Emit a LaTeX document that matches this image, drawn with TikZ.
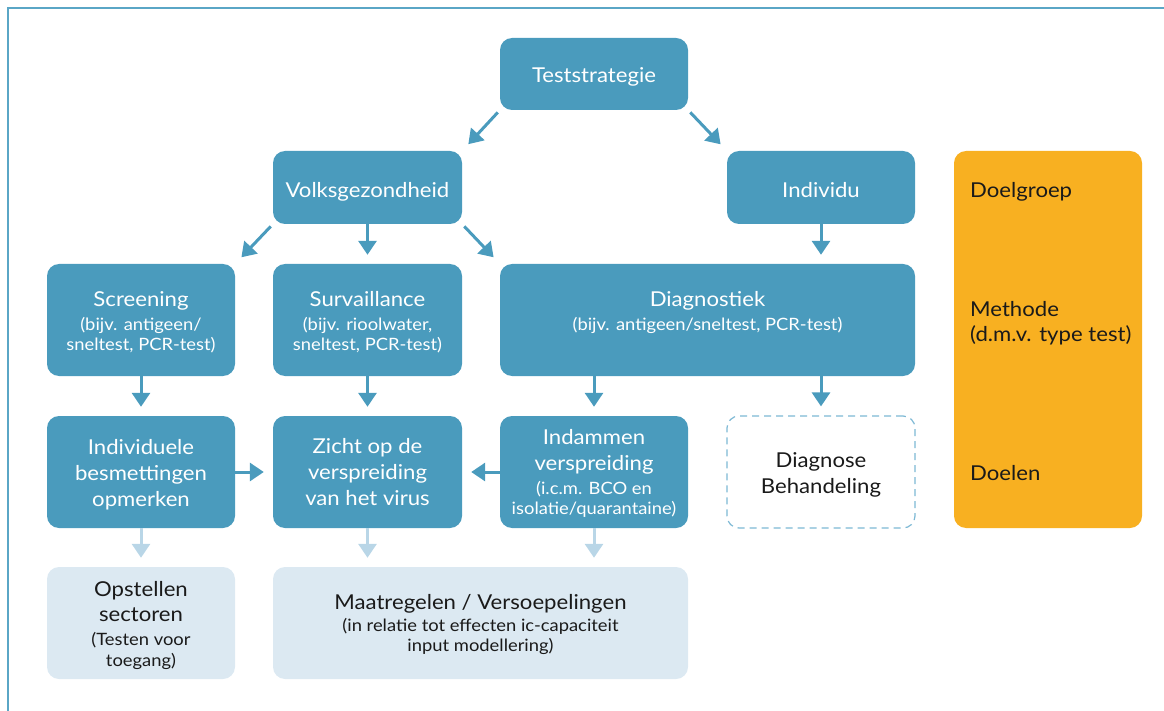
\documentclass[tikz,border=0pt]{standalone}
\usepackage{fontspec}
\setmainfont[FakeStretch=1.08]{Lato}
\usetikzlibrary{arrows.meta,calc}
\definecolor{cblue}{HTML}{4A9BBD}
\definecolor{clight}{HTML}{DCE9F2}
\definecolor{clarrow}{HTML}{B9D6E7}
\definecolor{corange}{HTML}{F8B021}
\definecolor{cdash}{HTML}{7DB8D4}
\definecolor{cframe}{HTML}{5AA6C6}
\definecolor{ctext}{HTML}{1A1A1A}
\newcommand{\mainsz}{\fontsize{20.5}{26}\selectfont}
\newcommand{\subsz}{\fontsize{17}{21}\selectfont}
\newcommand{\st}{\rule{0pt}{18pt}}
\tikzset{
  box/.style={rounded corners=12pt, inner sep=0pt},
  bluebox/.style={box, fill=cblue},
  lightbox/.style={box, fill=clight},
  dashbox/.style={box, draw=cdash, line width=1.2pt, dash pattern=on 7pt off 5pt},
  wtxt/.style={text=white, align=center, font=\mainsz, inner sep=0pt, anchor=north},
  btxt/.style={text=ctext, align=center, font=\mainsz, inner sep=0pt, anchor=north},
  ltxt/.style={text=ctext, align=left, font=\mainsz, inner sep=0pt, anchor=north west},
  arr/.style={draw=cblue, line width=3pt, -{Triangle[width=18pt,length=14pt]}, shorten >=9pt},
  larr/.style={draw=clarrow, line width=3pt, -{Triangle[width=18pt,length=14pt]}, shorten >=9pt}
}
\begin{document}
\begin{tikzpicture}[x=1pt,y=-1pt]
\useasboundingbox (0,0) rectangle (1164,711);
\draw[cframe, line width=1.5pt] (8,711) -- (8,8) -- (1164,8);

% boxes
\node[bluebox, minimum width=188pt, minimum height=72pt] (tst) at (594,74) {};
\node[bluebox, minimum width=189pt, minimum height=73pt] (vg) at (367.5,187.5) {};
\node[bluebox, minimum width=188pt, minimum height=73pt] (ind) at (821,187.5) {};
\node[bluebox, minimum width=188pt, minimum height=112pt] (scr) at (141,320) {};
\node[bluebox, minimum width=189pt, minimum height=112pt] (sur) at (367.5,320) {};
\node[bluebox, minimum width=415pt, minimum height=112pt] (dia) at (707.5,320) {};
\node[bluebox, minimum width=188pt, minimum height=112pt] (indi) at (141,472) {};
\node[bluebox, minimum width=189pt, minimum height=112pt] (zicht) at (367.5,472) {};
\node[bluebox, minimum width=188pt, minimum height=112pt] (indam) at (594,472) {};
\node[dashbox, minimum width=188pt, minimum height=112pt] (diag) at (821,472) {};
\node[lightbox, minimum width=188pt, minimum height=112pt] (opst) at (141,623) {};
\node[lightbox, minimum width=415pt, minimum height=112pt] (maat) at (480.5,623) {};
\node[box, fill=corange, minimum width=188pt, minimum height=377pt] (leg) at (1048,339.5) {};

% texts (anchor north = first baseline - 18pt)
\node[wtxt] (tstt) at (594,64.3) {\st Teststrategie};
\node[wtxt] (vgt) at (367.5,179) {\st Volksgezondheid};
\node[wtxt] (indt) at (821,179) {\st Individu};
\node[wtxt] (scrt) at (141,288) {\st Screening\\[-2pt]\subsz (bijv. antigeen/\\[-5.5pt]\subsz sneltest, PCR-test)};
\node[wtxt] (surt) at (367.5,288) {\st Survaillance\\[-2pt]\subsz (bijv. rioolwater,\\[-5.5pt]\subsz sneltest, PCR-test)};
\node[wtxt] (diat) at (707.5,288) {\st Diagnostiek\\[-2pt]\subsz (bijv. antigeen/sneltest, PCR-test)};
\node[wtxt] (indit) at (141,436) {\st Individuele\\besmettingen\\opmerken};
\node[wtxt] (zichtt) at (367.5,435.5) {\st Zicht op de\\verspreiding\\van het virus};
\node[wtxt] (indamt) at (594,426.5) {\st Indammen\\[-0.5pt]verspreiding\\[-2pt]\subsz (i.c.m. BCO en\\[-5.5pt]\subsz isolatie/quarantaine)};
\node[btxt] (diagt) at (821,449.3) {\st Diagnose\\[-0.5pt]Behandeling};
\node[btxt] (opstt) at (141,578) {\st Opstellen\\[-0.5pt]sectoren\\[-2.5pt]\subsz (Testen voor\\[-4.5pt]\subsz toegang)};
\node[btxt] (maatt) at (480.5,591) {\st Maatregelen / Versoepelingen\\[-4pt]\subsz (in relatie tot effecten ic-capaciteit\\[-6pt]\subsz input modellering)};
\node[ltxt] (l1) at (970,179.3) {\st Doelgroep};
\node[ltxt] (l2) at (970,298) {\st Methode\\[-0.5pt](d.m.v. type test)};
\node[ltxt] (l3) at (970,462) {\st Doelen};

% arrows
\draw[arr, shorten <=3pt] (tst.south west) -- (vg.north east);
\draw[arr, shorten <=3pt] (tst.south east) -- (ind.north west);
\draw[arr, shorten <=3pt] (vg.south west) -- (scr.north east);
\draw[arr] (vg.south) -- (sur.north);
\draw[arr, shorten <=3pt] (vg.south east) -- (dia.north west);
\draw[arr] (ind.south) -- (ind.south |- dia.north);
\draw[arr] (scr.south) -- (indi.north);
\draw[arr] (sur.south) -- (zicht.north);
\draw[arr] (indam.north |- dia.south) -- (indam.north);
\draw[arr] (diag.north |- dia.south) -- (diag.north);
\draw[arr] (indi.east) -- (zicht.west);
\draw[arr] (indam.west) -- (zicht.east);
\draw[larr] (indi.south) -- (opst.north);
\draw[larr] (zicht.south) -- (zicht.south |- maat.north);
\draw[larr] (indam.south) -- (indam.south |- maat.north);
\end{tikzpicture}
\end{document}
